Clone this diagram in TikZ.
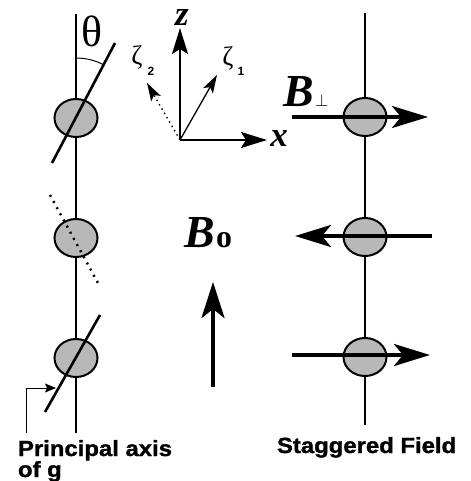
\documentclass[tikz,border=0pt]{standalone}
\usepackage{fontspec}
\usepackage{graphicx}
\setmainfont{Liberation Serif}
\setsansfont{Liberation Sans}
\newfontfamily\capfont[FakeBold=1.2]{Liberation Sans Bold}
\usetikzlibrary{arrows.meta,shapes.geometric}
\definecolor{ballgray}{gray}{0.72}
\begin{document}
\begin{tikzpicture}[x=1bp,y=-1bp,
  ball/.style={ellipse, draw, line width=2bp, fill=ballgray, minimum width=43bp, minimum height=38bp, inner sep=0pt},
  chain/.style={line width=1.4bp},
  paxis/.style={line width=2.6bp},
  paxisdot/.style={line width=2.4bp, dash pattern=on 2bp off 5bp},
  bigarrow/.style={line width=4bp, -{Stealth[length=36bp,width=22bp,inset=9bp]}},
  axisarrow/.style={line width=2bp, -{Stealth[length=26bp,width=16bp,inset=5bp]}},
  zetaarrow/.style={line width=1.3bp, -{Stealth[length=18bp,width=11bp,inset=4bp]}},
  lbl/.style={inner sep=0pt, outer sep=0pt},
  caption/.style={lbl, anchor=base west, font=\capfont\fontsize{22}{22}\selectfont},
  bigsym/.style={lbl, anchor=base west, font=\bfseries\itshape\fontsize{46}{46}\selectfont},
  axislbl/.style={lbl, anchor=base, font=\bfseries\itshape\fontsize{35}{35}\selectfont},
  zetalbl/.style={lbl, anchor=base, font=\fontsize{27}{27}\selectfont},
  zetasub/.style={lbl, anchor=base, font=\sffamily\bfseries\fontsize{12}{12}\selectfont},
]
\useasboundingbox (0,0) rectangle (471,481);

% left chain
\coordinate (lt) at (76,14);
\coordinate (lb) at (76,433);
\draw[chain] (lt) -- (lb);
\node[ball] (l1) at (76,118) {};
\node[ball] (l2) at (76,238) {};
\node[ball] (l3) at (76,358) {};
\coordinate (a1s) at (52,163); \coordinate (a1e) at (115,43);
\coordinate (a2s) at (50,195); \coordinate (a2e) at (98,283);
\coordinate (a3s) at (45,412); \coordinate (a3e) at (100,315);
\draw[paxis] (a1s) -- (a1e);
\draw[paxisdot] (a2s) -- (a2e);
\draw[paxis] (a3s) -- (a3e);
% theta arc
\draw[line width=1bp] (l1) ++(0,-60) arc[start angle=-90,end angle=-62.3,radius=60];
\node[lbl, font=\fontsize{44}{44}\selectfont] (theta) at (92,31) {θ};

% principal axis pointer
\coordinate (pp0) at (26,433);
\coordinate (pp1) at (56,388);
\draw[line width=0.9bp, -{Stealth[length=11bp,width=9bp,inset=2bp]}] (pp0) |- (pp1);
\node[caption] (pa) at (18,456) {\scalebox{1.09}[1]{Principal axis}};
\node[caption] (pg) at (18,477) {\scalebox{1.09}[1]{of g}};

% axes
\coordinate (o) at (180,140);
\coordinate (zt) at (180,28);
\coordinate (xt) at (267,140);
\coordinate (z1) at (217,75);
\coordinate (z2) at (147,83);
\draw[axisarrow] (o) -- (zt);
\draw[axisarrow] (o) -- (xt);
\draw[zetaarrow] (o) -- (z1);
\draw[zetaarrow, dash pattern=on 1.5bp off 3.5bp] (o) -- (z2);
\node[axislbl] (zl) at (182,26) {z};
\node[axislbl] (xl) at (279,147) {x};
\node[zetalbl] (zeta1) at (228,66) {ζ};
\node[zetasub] (zeta1s) at (241,76) {1};
\node[zetalbl] (zeta2) at (137,65) {ζ};
\node[zetasub] (zeta2s) at (151,76) {2};

% B0
\node[bigsym] (b0) at (184,247) {B};
\node[lbl, anchor=base west, font=\bfseries\fontsize{32}{32}\selectfont] (b0s) at (216,247) {o};
\coordinate (b0a) at (213,387);
\coordinate (b0b) at (213,282);
\draw[line width=4bp, -{Stealth[length=36bp,width=23bp,inset=9bp]}] (b0a) -- (b0b);

% right chain
\coordinate (rt) at (365,13);
\coordinate (rb) at (365,425);
\draw[chain] (rt) -- (rb);
\node[ball] (r1) at (365,117) {};
\node[ball] (r2) at (365,237) {};
\node[ball] (r3) at (365,357) {};
\coordinate (f1s) at (292,117); \coordinate (f1e) at (428,117);
\coordinate (f2s) at (432,236); \coordinate (f2e) at (295,236);
\coordinate (f3s) at (292,355); \coordinate (f3e) at (430,355);
\draw[bigarrow] (f1s) -- (f1e);
\draw[bigarrow] (f2s) -- (f2e);
\draw[bigarrow] (f3s) -- (f3e);
\node[bigsym] (bp) at (283,107) {B};
\node[lbl, anchor=base west, font=\fontsize{18}{18}\selectfont] (bps) at (315,107) {$\perp$};
\node[caption] (sf) at (277,453) {\scalebox{1.09}[1]{Staggered Field}};
\end{tikzpicture}
\end{document}
